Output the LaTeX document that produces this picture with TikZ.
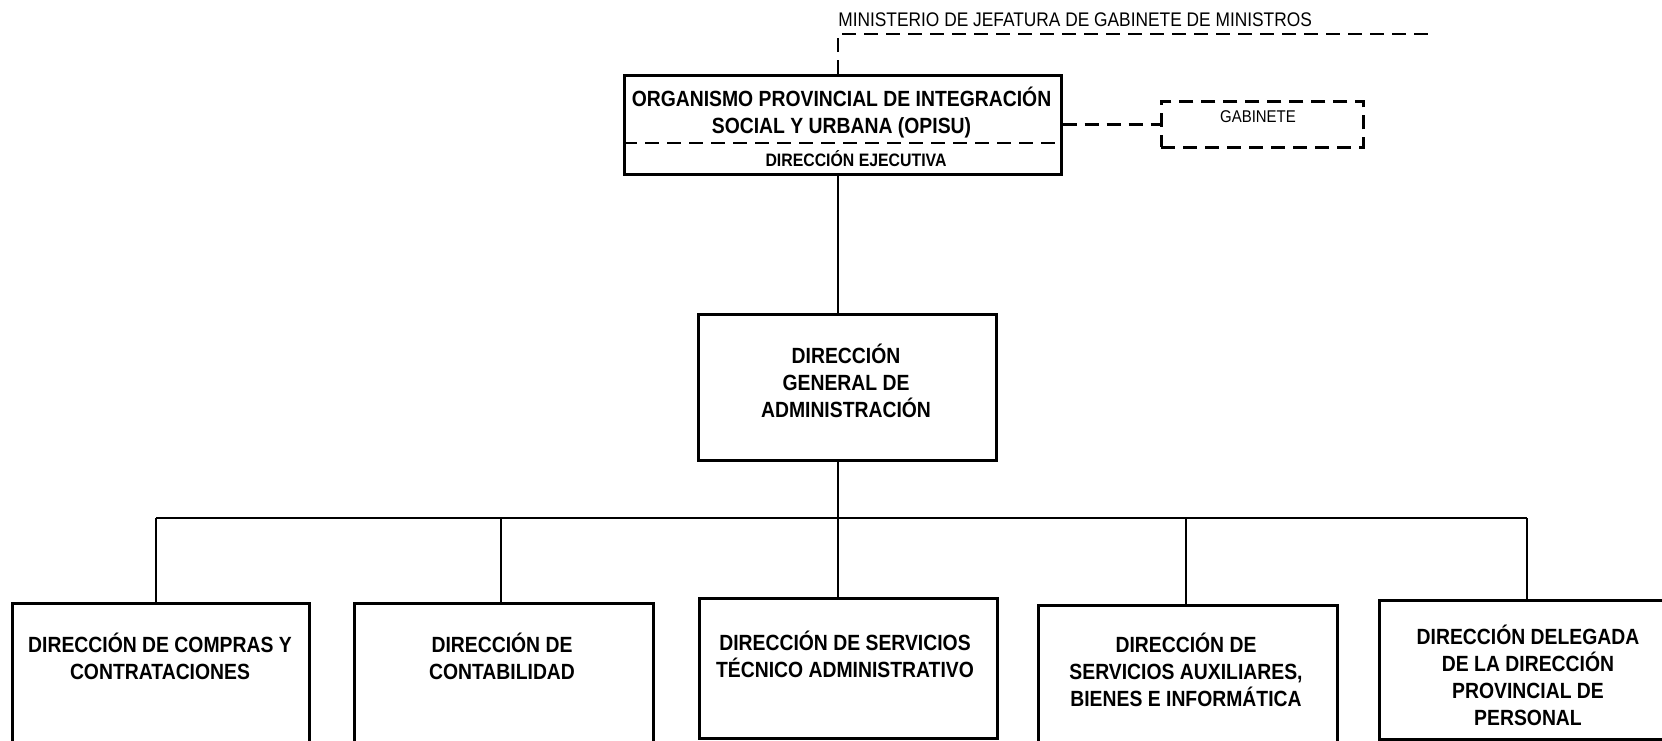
\documentclass[tikz,border=0pt]{standalone}
\usepackage{fontspec}
\setmainfont{Liberation Sans}
\newfontfamily\nar[FakeStretch=0.88]{Liberation Sans}
\begin{document}
\begin{tikzpicture}[x=1pt,y=-1pt,
  line width=2.6pt,
  boxst/.style={draw, rectangle, inner sep=0pt, anchor=north west, line width=2.6pt},
  dsh/.style={dash pattern=on 14pt off 8pt, line width=2.6pt},
  btxt/.style={font={\nar\bfseries\fontsize{22}{27}\selectfont}, align=center, inner sep=0pt},
  stxt/.style={font={\nar\bfseries\fontsize{18}{22}\selectfont}, align=center, inner sep=0pt},
  rtxt/.style={font={\nar\fontsize{#1}{#1}\selectfont}, inner sep=0pt}]
\fill[white] (0,0) rectangle (1662,740);
\clip (0,0) rectangle (1662,740);

% top organism
\node[boxst, minimum width=437, minimum height=99] (opisu) at (623,74) {};
\coordinate (dv) at (0,143);
\draw[dsh] (opisu.west |- dv) -- (opisu.east |- dv);
\node[btxt] (opt) at (841.5,113) {ORGANISMO PROVINCIAL DE INTEGRACIÓN\\SOCIAL Y URBANA (OPISU)};
\node[stxt] (ejec) at (856,159) {DIRECCIÓN EJECUTIVA};

% ministerio
\node[rtxt=19.7, anchor=west] (min) at (837,20) {MINISTERIO DE JEFATURA DE GABINETE DE MINISTROS};
\coordinate (spine) at (838,0);
\coordinate (mcorner) at (838,34);
\coordinate (mend) at (1432,34);
\draw[dsh] (spine |- opisu.north) -- (mcorner) -- (mend);

% gabinete
\node[boxst, dsh, minimum width=202, minimum height=46] (gab) at (1160,100) {};
\node[rtxt=17] (gabt) at (1258,117) {GABINETE};
\draw[dsh] (opisu.east |- gab.west) -- (gab.west);

% DGA
\node[boxst, minimum width=298, minimum height=146] (dga) at (697,313) {};
\node[btxt] (dgat) at (846,381) {DIRECCIÓN\\GENERAL DE\\ADMINISTRACIÓN};

% bus
\coordinate (d1) at (156,518);
\coordinate (d2) at (501,518);
\coordinate (d3) at (838,518);
\coordinate (d4) at (1186,518);
\coordinate (d5) at (1527,518);
\draw (spine |- opisu.south) -- (spine |- dga.north);
\draw (spine |- dga.south) -- (d3);
\draw (d1) -- (d5);

% bottom boxes
\node[boxst, minimum width=297, minimum height=160] (b1) at (11,602) {};
\node[boxst, minimum width=299, minimum height=160] (b2) at (353,602) {};
\node[boxst, minimum width=298, minimum height=140] (b3) at (698,597) {};
\node[boxst, minimum width=299, minimum height=160] (b4) at (1037,604) {};
\node[boxst, minimum width=302, minimum height=139] (b5) at (1378,599) {};

\draw (d1) -- (d1 |- b1.north);
\draw (d2) -- (d2 |- b2.north);
\draw (d3) -- (d3 |- b3.north);
\draw (d4) -- (d4 |- b4.north);
\draw (d5) -- (d5 |- b5.north);

\node[btxt] (t1) at (160,656) {DIRECCIÓN DE COMPRAS Y\\CONTRATACIONES};
\node[btxt] (t2) at (502,656) {DIRECCIÓN DE\\CONTABILIDAD};
\node[btxt] (t3) at (845,654) {DIRECCIÓN DE SERVICIOS\\TÉCNICO ADMINISTRATIVO};
\node[btxt] (t4) at (1186,670) {DIRECCIÓN DE\\SERVICIOS AUXILIARES,\\BIENES E INFORMÁTICA};
\node[btxt] (t5) at (1528,675) {DIRECCIÓN DELEGADA\\DE LA DIRECCIÓN\\PROVINCIAL DE\\PERSONAL};
\end{tikzpicture}
\end{document}
